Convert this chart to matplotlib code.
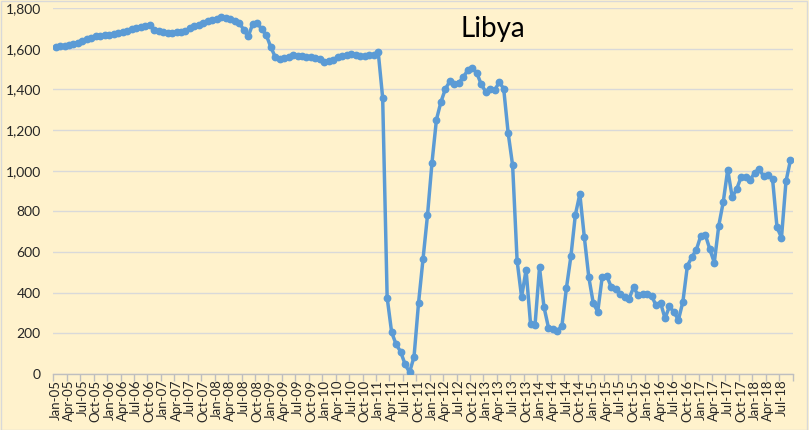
import matplotlib
matplotlib.use("Agg")
import matplotlib.pyplot as plt
from matplotlib.patches import Rectangle
import pandas as pd

title = "Libya"
start_month = "2005-01"
y2005 = [1608, 1612, 1615, 1618, 1622, 1630, 1640, 1648, 1652, 1660, 1662, 1665]
y2006 = [1668, 1672, 1678, 1682, 1688, 1695, 1702, 1708, 1712, 1718, 1690, 1685]
y2007 = [1682, 1678, 1678, 1680, 1683, 1686, 1700, 1712, 1718, 1725, 1735, 1742]
y2008 = [1748, 1755, 1752, 1745, 1735, 1728, 1692, 1660, 1722, 1728, 1695, 1668]
y2009 = [1610, 1560, 1550, 1555, 1560, 1570, 1565, 1562, 1560, 1560, 1555, 1548]
y2010 = [1535, 1538, 1545, 1560, 1565, 1570, 1575, 1570, 1565, 1565, 1568, 1570]
y2011 = [1585, 1358, 376, 205, 146, 110, 48, 8, 85, 348, 566, 780]
y2012 = [1038, 1251, 1338, 1402, 1440, 1427, 1432, 1461, 1494, 1505, 1481, 1424]
y2013 = [1388, 1404, 1396, 1435, 1404, 1186, 1026, 557, 378, 512, 246, 241]
y2014 = [524, 329, 228, 220, 213, 236, 422, 578, 783, 885, 673, 476]
y2015 = [348, 307, 479, 484, 427, 419, 394, 381, 371, 427, 387, 393]
y2016 = [394, 386, 337, 351, 274, 332, 304, 266, 356, 532, 575, 611]
y2017 = [680, 685, 614, 548, 729, 846, 1005, 869, 910, 969, 969, 956]
y2018 = [988, 1010, 972, 979, 960, 721, 671, 947, 1052]

values = (y2005 + y2006 + y2007 + y2008 + y2009 + y2010 + y2011 +
          y2012 + y2013 + y2014 + y2015 + y2016 + y2017 + y2018)
months = pd.date_range(start_month, periods=len(values), freq="MS").strftime("%b-%y").tolist()
y_ticks = [0, 200, 400, 600, 800, 1000, 1200, 1400, 1600, 1800]

plt.rcParams['font.family'] = ['Lato', 'DejaVu Sans']
bg = "#FFF2CC"
fig = plt.figure(figsize=(8.09, 4.30), dpi=100, facecolor=bg)
ax = fig.add_axes([53.3 / 809, 1 - 374 / 430, (792.7 - 53.3) / 809, (374 - 8) / 430])
ax.set_facecolor(bg)

x = list(range(len(values)))
ax.plot(x, values, color="#5B9BD5", lw=2.5, marker="o", ms=4.6,
        markerfacecolor="#5B9BD5", markeredgecolor="#5B9BD5", zorder=3)

ax.set_xlim(-0.5, len(values) - 0.5)
ax.set_ylim(0, 1800)
ax.set_yticks(y_ticks)
ax.set_yticklabels([f"{v:,}" for v in y_ticks])
ax.yaxis.grid(True, color="#D9D9D9", lw=1)
ax.set_axisbelow(True)

ax.set_xticks(x[::3])
ax.set_xticklabels(months[::3], rotation=90)
ax.set_xticks([i - 0.5 for i in range(0, len(values) + 1, 3)], minor=True)
ax.tick_params(axis="x", which="major", length=0, pad=4, labelsize=9.5)
ax.tick_params(axis="x", which="minor", length=5, color="#BFBFBF", width=1)
ax.tick_params(axis="y", length=0, pad=9, labelsize=10)
for lbl in ax.get_xticklabels() + ax.get_yticklabels():
    lbl.set_color("#262626")

for s in ["top", "right", "left"]:
    ax.spines[s].set_visible(False)
ax.spines["bottom"].set_color("#BFBFBF")
ax.spines["bottom"].set_linewidth(1)

fig.text(493 / 809, 1 - 29 / 430, title, ha="center", va="center", fontsize=20, color="#000000")
fig.patches.append(Rectangle((0.001, 0.001), 0.997, 0.997, transform=fig.transFigure,
                             fill=False, edgecolor="#D9D9D9", lw=1))

fig.savefig("out.png", dpi=100, facecolor=bg)
